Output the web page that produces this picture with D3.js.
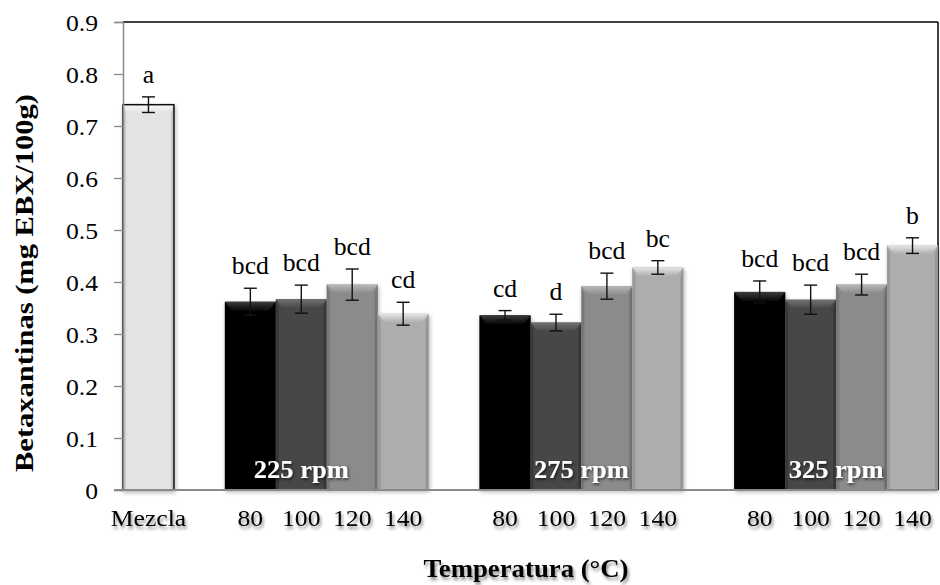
<!DOCTYPE html>
<html>
<head>
<meta charset="utf-8">
<script src="https://cdn.jsdelivr.net/npm/d3@7"></script>
<style>
  html, body { margin: 0; padding: 0; background: #fff; }
  svg { display: block; }
  text { font-family: "Liberation Serif", "Times New Roman", serif; fill: #000; }
</style>
</head>
<body>
<svg id="chart" width="940" height="585"></svg>
<script>
// Category slots along the x axis (blank slots separate the rpm groups)
const slots = ["Mezcla", "gap1",
  "225-80", "225-100", "225-120", "225-140", "gap2",
  "275-80", "275-100", "275-120", "275-140", "gap3",
  "325-80", "325-100", "325-120", "325-140"];
const tickLabels = ["Mezcla", "",
  "80", "100", "120", "140", "",
  "80", "100", "120", "140", "",
  "80", "100", "120", "140"];

// Betaxanthin content (mg EBX/100g) and standard deviations
const barKeys = ["Mezcla",
  "225-80", "225-100", "225-120", "225-140",
  "275-80", "275-100", "275-120", "275-140",
  "325-80", "325-100", "325-120", "325-140"];
const barValues = [0.741,
  0.362, 0.367, 0.395, 0.339,
  0.336, 0.322, 0.392, 0.428,
  0.381, 0.366, 0.395, 0.470];
const barErrors = [0.015,
  0.026, 0.027, 0.030, 0.022,
  0.009, 0.016, 0.025, 0.013,
  0.021, 0.028, 0.020, 0.015];
const sigLetters = ["a",
  "bcd", "bcd", "bcd", "cd",
  "cd", "d", "bcd", "bc",
  "bcd", "bcd", "bcd", "b"];
const barTemps = ["mix",
  "80", "100", "120", "140",
  "80", "100", "120", "140",
  "80", "100", "120", "140"];

const yTicks = [0, 0.1, 0.2, 0.3, 0.4, 0.5, 0.6, 0.7, 0.8, 0.9];
const groupLabels = ["225 rpm", "275 rpm", "325 rpm"];

// Fill colour per temperature: [base, bevel highlight, edge]
const palette = {
  mix: ["#e3e3e3", "#f7f7f7", "#c4c4c4"],
  "80": ["#060606", "#3c3c3c", "#000000"],
  "100": ["#474747", "#727272", "#363636"],
  "120": ["#8b8b8b", "#b8b8b8", "#737373"],
  "140": ["#adadad", "#e4e4e4", "#939393"]
};

// Widen a text selection horizontally by a factor, keeping its glyph height
function widen(sel, factor) {
  sel.each(function () {
    const len = this.getComputedTextLength();
    if (len > 0) {
      d3.select(this).attr("textLength", len * factor).attr("lengthAdjust", "spacingAndGlyphs");
    }
  });
}

const svg = d3.select("#chart");
const margin = { left: 123, right: 2, top: 22, bottom: 95 };
const W = 940, H = 585;

const x = d3.scaleBand().domain(slots).range([margin.left, W - margin.right]).padding(0);
const y = d3.scaleLinear().domain([0, 0.9]).range([H - margin.bottom, margin.top]);

const defs = svg.append("defs");
const tShadow = defs.append("filter").attr("id", "tshadow")
  .attr("x", "-20%").attr("y", "-30%").attr("width", "140%").attr("height", "180%");
tShadow.append("feDropShadow").attr("dx", 1.5).attr("dy", 3).attr("stdDeviation", 1.6)
  .attr("flood-color", "#000").attr("flood-opacity", 0.45);
const wShadow = defs.append("filter").attr("id", "wshadow")
  .attr("x", "-20%").attr("y", "-30%").attr("width", "140%").attr("height", "180%");
wShadow.append("feDropShadow").attr("dx", 1).attr("dy", 1.5).attr("stdDeviation", 1.5)
  .attr("flood-color", "#000").attr("flood-opacity", 0.7);
const bShadow = defs.append("filter").attr("id", "bshadow")
  .attr("x", "-20%").attr("y", "-10%").attr("width", "140%").attr("height", "120%");
bShadow.append("feDropShadow").attr("dx", 1).attr("dy", 2).attr("stdDeviation", 2)
  .attr("flood-color", "#000").attr("flood-opacity", 0.3);

Object.entries(palette).forEach(([k, c]) => {
  const g = defs.append("linearGradient").attr("id", "top-" + k)
    .attr("x1", 0).attr("y1", 0).attr("x2", 0).attr("y2", 1);
  g.append("stop").attr("offset", "0%").attr("stop-color", c[1]);
  g.append("stop").attr("offset", "100%").attr("stop-color", c[0]);
});

// Plot frame: top and right borders in black
const x0 = margin.left, x1 = W - margin.right, yTop = margin.top, yBot = H - margin.bottom;
svg.append("line").attr("x1", x0).attr("x2", x1).attr("y1", yTop).attr("y2", yTop)
  .attr("stroke", "#000").attr("stroke-width", 1.5);
svg.append("line").attr("x1", x1).attr("x2", x1).attr("y1", yTop).attr("y2", yBot)
  .attr("stroke", "#000").attr("stroke-width", 1.5);

const bars = barKeys.map((k, i) => ({
  key: k, v: barValues[i], e: barErrors[i], letter: sigLetters[i], t: barTemps[i]
}));

const bev = 9, side = 3;
const barG = svg.append("g").selectAll("g").data(bars).join("g")
  .attr("filter", "url(#bshadow)");

barG.each(function (d) {
  const g = d3.select(this);
  const bx = x(d.key), bw = x.bandwidth(), by = y(d.v), bh = y(0) - y(d.v);
  const c = palette[d.t];
  g.append("rect").attr("x", bx).attr("y", by).attr("width", bw).attr("height", bh)
    .attr("fill", c[0]);
  // left and right bevel edges
  g.append("polygon")
    .attr("points", [[bx, by], [bx + side, by + bev], [bx + side, by + bh], [bx, by + bh]].join(" "))
    .attr("fill", c[2]).attr("opacity", 0.8);
  g.append("polygon")
    .attr("points", [[bx + bw, by], [bx + bw - side, by + bev], [bx + bw - side, by + bh], [bx + bw, by + bh]].join(" "))
    .attr("fill", c[2]).attr("opacity", 0.9);
  // top bevel highlight
  g.append("polygon")
    .attr("points", [[bx, by], [bx + bw, by], [bx + bw - side * 2.5, by + bev], [bx + side * 2.5, by + bev]].join(" "))
    .attr("fill", `url(#top-${d.t})`);
  if (d.t === "mix") {
    g.append("rect").attr("x", bx).attr("y", by).attr("width", bw).attr("height", bh)
      .attr("fill", "none").attr("stroke", "#111").attr("stroke-width", 1.5);
  }
});

// Error bars
const capW = 6.5;
const errG = svg.append("g").attr("stroke", "#111").attr("stroke-width", 1.4).attr("fill", "none");
bars.forEach(d => {
  const cx = x(d.key) + x.bandwidth() / 2;
  const yt = y(d.v + d.e), yb = y(d.v - d.e);
  errG.append("line").attr("x1", cx).attr("x2", cx).attr("y1", yt).attr("y2", yb);
  errG.append("line").attr("x1", cx - capW).attr("x2", cx + capW).attr("y1", yt).attr("y2", yt);
  errG.append("line").attr("x1", cx - capW).attr("x2", cx + capW).attr("y1", yb).attr("y2", yb);
});

// Significance letters above the error bars
const letters = svg.append("g").selectAll("text").data(bars).join("text")
  .attr("x", d => x(d.key) + x.bandwidth() / 2)
  .attr("y", d => y(d.v + d.e) - 14)
  .attr("text-anchor", "middle")
  .attr("font-size", 24.5)
  .text(d => d.letter);
widen(letters, 1.05);

// rpm group labels inside the bars
const groupAnchors = [
  x("225-100") + x.bandwidth() / 2,
  (x("275-100") + x("275-120") + x.bandwidth()) / 2,
  (x("325-100") + x("325-120") + x.bandwidth()) / 2
];
const rpm = svg.append("g").selectAll("text").data(groupLabels).join("text")
  .attr("x", (d, i) => groupAnchors[i])
  .attr("y", yBot - 12)
  .attr("text-anchor", "middle")
  .attr("font-size", 25)
  .attr("font-weight", "bold")
  .attr("filter", "url(#wshadow)")
  .style("fill", "#fff")
  .text(d => d);
widen(rpm, 1.06);

// Y axis
const yAxis = d3.axisLeft(y).tickValues(yTicks).tickSize(9).tickPadding(16)
  .tickFormat(d => d === 0 ? "0" : d3.format(".1f")(d));
const yg = svg.append("g").attr("transform", `translate(${x0},0)`).call(yAxis);
yg.select(".domain").attr("stroke", "#8a8a8a").attr("stroke-width", 1.5);
yg.selectAll(".tick line").attr("stroke", "#8a8a8a").attr("stroke-width", 1.3);
yg.selectAll(".tick text")
  .attr("font-size", 22.5).attr("dy", 8).style("fill", "#000");
widen(yg.selectAll(".tick text"), 1.14);

// X axis with category labels
const xAxis = d3.axisBottom(x).tickSize(0).tickPadding(30)
  .tickFormat(d => tickLabels[slots.indexOf(d)]);
const xg = svg.append("g").attr("transform", `translate(0,${yBot})`).call(xAxis);
xg.select(".domain").attr("stroke", "#8a8a8a").attr("stroke-width", 1.8)
  .attr("d", `M${x0 - 9},0H${x1}`);
xg.selectAll(".tick text")
  .attr("font-size", 22.5).attr("dy", 6).style("fill", "#000")
  .attr("filter", "url(#tshadow)");
widen(xg.selectAll(".tick text"), 1.14);

// Axis titles
svg.append("text")
  .attr("transform", `translate(33,283) rotate(-90)`)
  .attr("text-anchor", "middle")
  .attr("font-size", 25).attr("font-weight", "bold")
  .attr("textLength", 378).attr("lengthAdjust", "spacingAndGlyphs")
  .text("Betaxantinas (mg EBX/100g)");
const xTitle = svg.append("text")
  .attr("x", 526).attr("y", 577)
  .attr("text-anchor", "middle")
  .attr("font-size", 25).attr("font-weight", "bold")
  .attr("filter", "url(#tshadow)")
  .text("Temperatura (°C)");
widen(xTitle, 1.07);
</script>
</body>
</html>
